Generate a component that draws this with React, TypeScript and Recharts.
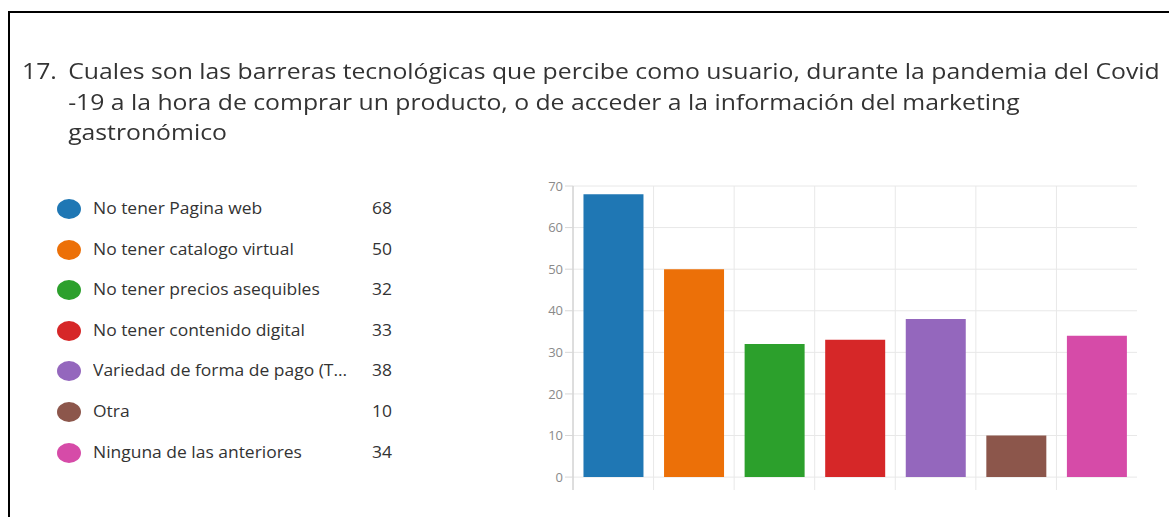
import { BarChart, Bar, XAxis, YAxis, CartesianGrid, Cell } from "recharts";

const categories = [
  "No tener Pagina web",
  "No tener catalogo virtual",
  "No tener precios asequibles",
  "No tener contenido digital",
  "Variedad de forma de pago (T...",
  "Otra",
  "Ninguna de las anteriores",
];
const counts = [68, 50, 32, 33, 38, 10, 34];
const colors = ["#1f77b4", "#ec7008", "#2ca02c", "#d62728", "#9467bd", "#8c564b", "#d64ba8"];
const yTicks = [0, 10, 20, 30, 40, 50, 60, 70];
const gridTicks = [0, 1, 2, 3, 4, 5, 6];

const titleLines = [
  "Cuales son las barreras tecnológicas que percibe como usuario, durante la pandemia del Covid",
  "-19 a la hora de comprar un producto, o de acceder a la información del marketing",
  "gastronómico",
];

const data = categories.map((name, i) => ({ name, value: counts[i] }));

const font = "'Open Sans', 'Noto Sans', sans-serif";

export default function App() {
  return (
    <div
      style={{
        position: "absolute",
        left: 0,
        top: 0,
        width: 1169,
        height: 517,
        background: "#fff",
        overflow: "hidden",
        fontFamily: font,
      }}
    >
      {/* frame */}
      <div
        style={{
          position: "absolute",
          left: 8,
          top: 11,
          width: 1200,
          height: 600,
          borderTop: "2px solid #000",
          borderLeft: "2px solid #000",
        }}
      />

      {/* title (source screenshot is stretched a bit horizontally) */}
      <div
        style={{
          position: "absolute",
          left: 22,
          top: 55,
          fontSize: 22,
          color: "#333",
          lineHeight: "30.5px",
          transform: "scaleX(1.125)",
          transformOrigin: "0 0",
        }}
      >
        <span style={{ position: "absolute", left: 0, top: 0 }}>17.</span>
        {titleLines.map((t, i) => (
          <div key={i} style={{ position: "absolute", left: 41, top: i * 30.5, whiteSpace: "nowrap" }}>
            {t}
          </div>
        ))}
      </div>

      {/* legend */}
      {categories.map((c, i) => (
        <div
          key={c}
          style={{ position: "absolute", left: 56, top: 198 + i * 40.6, height: 22, width: 360, fontSize: 16, color: "#333" }}
        >
          <span
            style={{
              position: "absolute",
              left: 1,
              top: 1,
              width: 24,
              height: 20,
              borderRadius: "50%",
              background: colors[i],
            }}
          />
          <span
            style={{
              position: "absolute",
              left: 37,
              top: 0,
              lineHeight: "21px",
              whiteSpace: "nowrap",
              transform: "scaleX(1.09)",
              transformOrigin: "0 0",
            }}
          >
            {c}
          </span>
          <span
            style={{
              position: "absolute",
              left: 316,
              top: 0,
              lineHeight: "21px",
              transform: "scaleX(1.09)",
              transformOrigin: "0 0",
            }}
          >
            {counts[i]}
          </span>
        </div>
      ))}

      {/* chart: plot runs a little below zero so the vertical lines stick out under the baseline */}
      <div style={{ position: "absolute", left: 520, top: 170 }}>
        <BarChart
          width={640}
          height={340}
          data={data}
          margin={{ top: 16, right: 23, bottom: 20, left: 13 }}
          barCategoryGap="13%"
        >
          <CartesianGrid
            stroke="#e8e8e8"
            vertical
            horizontal
            horizontalValues={yTicks}
            verticalCoordinatesGenerator={({ offset }: any) =>
              gridTicks.map((t) => offset.left + (t * offset.width) / categories.length)
            }
          />
          <XAxis dataKey="name" hide />
          <YAxis
            domain={[-3.1, 70]}
            ticks={yTicks}
            width={40}
            tickSize={8}
            tickMargin={2}
            axisLine={{ stroke: "#c8c8c8" }}
            tickLine={{ stroke: "#d8d8d8" }}
            tick={{ fill: "#8a8a8a", fontSize: 13, fontFamily: font }}
          />
          <Bar dataKey="value" isAnimationActive={false}>
            {data.map((d, i) => (
              <Cell key={d.name} fill={colors[i]} />
            ))}
          </Bar>
        </BarChart>
      </div>
    </div>
  );
}
